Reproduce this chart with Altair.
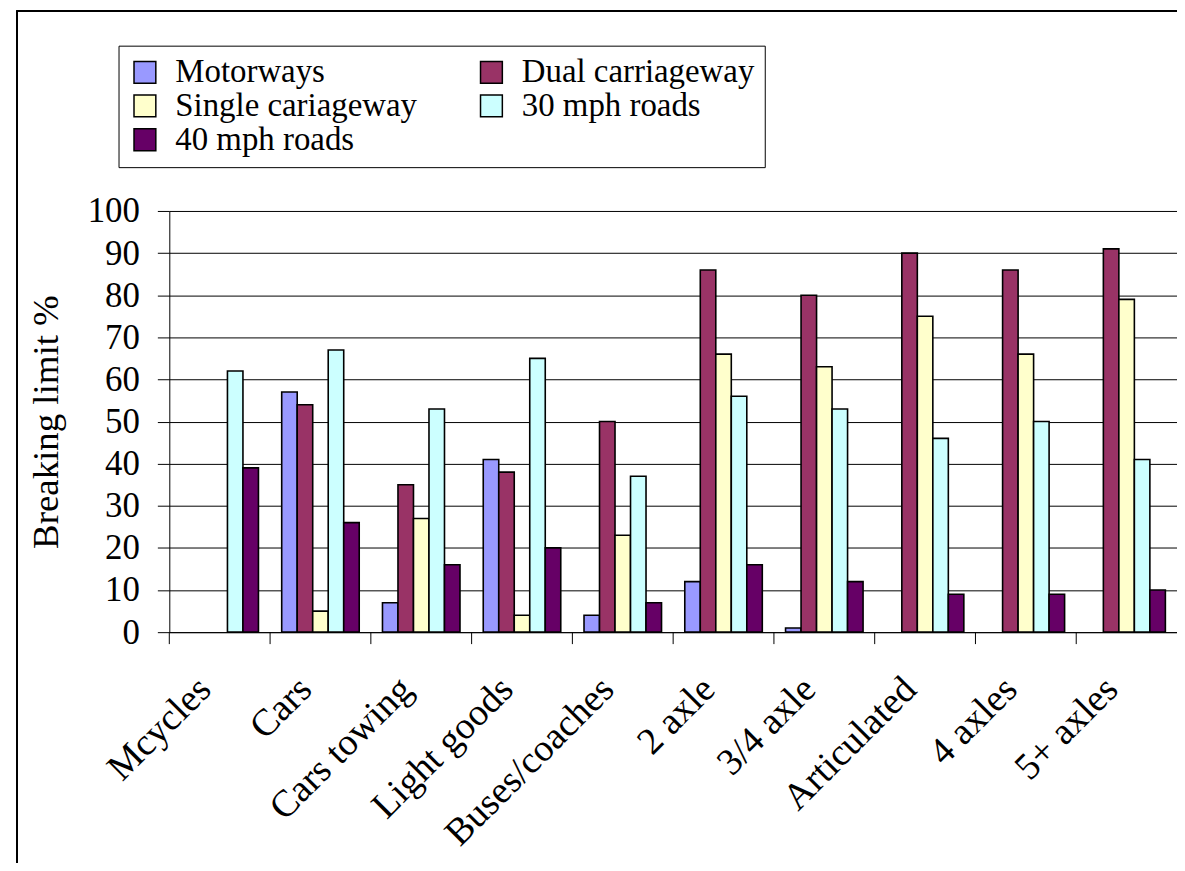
import altair as alt
import pandas as pd

categories = ["Mcycles", "Cars", "Cars towing", "Light goods", "Buses/coaches",
              "2 axle", "3/4 axle", "Articulated", "4 axles", "5+ axles"]
series = ["Motorways", "Dual carriageway", "Single cariageway", "30 mph roads", "40 mph roads"]
colors = ["#9999FF", "#993366", "#FFFFCC", "#CCFFFF", "#660066"]

motorways = [None, 57, 7, 41, 4, 12, 1, None, None, None]
dual = [None, 54, 35, 38, 50, 86, 80, 90, 86, 91]
single = [None, 5, 27, 4, 23, 66, 63, 75, 66, 79]
mph30 = [62, 67, 53, 65, 37, 56, 53, 46, 50, 41]
mph40 = [39, 26, 16, 20, 7, 16, 12, 9, 9, 10]

rows = []
for s, vals in zip(series, [motorways, dual, single, mph30, mph40]):
    for c, v in zip(categories, vals):
        if v is not None:
            rows.append({"cat": c, "series": s, "value": v})
df = pd.DataFrame(rows)
cats_df = pd.DataFrame({"cat": categories})

FONT = "Liberation Serif, Times New Roman, serif"

xscale = alt.Scale(domain=categories, paddingInner=0, paddingOuter=0)

bars = alt.Chart(df).mark_bar(stroke="black", strokeWidth=1.6).encode(
    x=alt.X("cat:N", scale=xscale, sort=categories,
            axis=alt.Axis(title=None, labelAngle=-45, labelFont=FONT, labelFontSize=38,
                          labelColor="black", ticks=False, domainColor="black",
                          domainWidth=1, labelPadding=38, labelOffset=-28, labelLimit=400)),
    xOffset=alt.XOffset("series:N", sort=series,
                        scale=alt.Scale(domain=series, paddingInner=0, paddingOuter=0.75)),
    y=alt.Y("value:Q", scale=alt.Scale(domain=[0, 100], nice=False),
            axis=alt.Axis(title="Breaking limit %", values=list(range(0, 101, 10)),
                          labelFont=FONT, labelFontSize=35, labelColor="black",
                          titleFont=FONT, titleFontSize=37, titleFontWeight="normal",
                          titleColor="black", titlePadding=22,
                          grid=True, gridColor="black", gridWidth=1,
                          tickColor="black", tickSize=12, labelPadding=18,
                          domainColor="black", domainWidth=1)),
    color=alt.Color("series:N", sort=series,
                    scale=alt.Scale(domain=series, range=colors),
                    legend=alt.Legend(title=None, orient="none", legendX=-51, legendY=-166,
                                      columns=2, direction="horizontal",
                                      labelFont=FONT, labelFontSize=33)),
)

ticks = alt.Chart(cats_df).mark_rule(color="black", strokeWidth=1).encode(
    x=alt.X("cat:N", scale=xscale, sort=categories, bandPosition=0),
    y=alt.value(423),
    y2=alt.value(435),
)

frame_top = alt.Chart(cats_df).mark_rule(color="black", strokeWidth=1.5).encode(
    x=alt.value(-153), x2=alt.value(1030), y=alt.value(-201)
)
frame_left = alt.Chart(cats_df).mark_rule(color="black", strokeWidth=1.5).encode(
    x=alt.value(-153), y=alt.value(-201), y2=alt.value(720)
)

chart = alt.layer(bars, ticks, frame_top, frame_left).properties(
    width=1012, height=423,
    padding={"left": 162, "top": 202, "right": 0, "bottom": 230},
    autosize=alt.AutoSizeParams(type="none"),
    background="white",
).configure(font=FONT).configure_view(stroke=None).configure_legend(
    strokeColor="black", fillColor="white", padding=10,
    columnPadding=58, rowPadding=0,
    symbolType="square", symbolSize=480, symbolStrokeColor="black",
    symbolStrokeWidth=1.5, symbolOpacity=1,
    labelFont=FONT, labelFontSize=33, labelColor="black", labelOffset=14, labelLimit=500,
)

chart.save("out.html", embed_options={"renderer": "svg", "actions": False})
